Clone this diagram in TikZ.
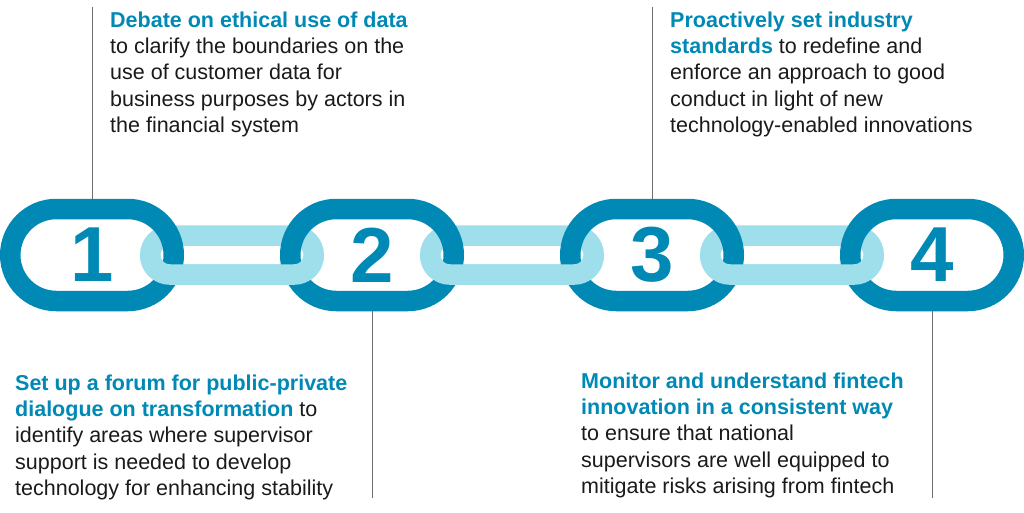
\documentclass[tikz,border=0pt]{standalone}
\usepackage{fontspec}
\setmainfont{Liberation Sans}
\usepackage{xcolor}
\usepackage{tikz}
\usetikzlibrary{shapes.misc,positioning}
\definecolor{chain}{HTML}{0089B5}
\definecolor{chainlight}{HTML}{9EDFEB}
\definecolor{ink}{HTML}{1A1A1A}
\definecolor{rule}{HTML}{6E6E6E}
\tikzset{
  every node/.style={text=ink},
  biglink/.style={rounded rectangle,draw=chain,line width=20.5pt,minimum width=163.5pt,minimum height=92pt,inner sep=0pt,text=chain,font=\fontsize{78}{78}\selectfont\bfseries},
  smalllink/.style={rounded rectangle,draw=chainlight,line width=20.5pt,minimum width=163.5pt,minimum height=39pt,inner sep=0pt},
  leader/.style={draw=rule,line width=1pt},
  blurb/.style={anchor=north west,align=left,inner sep=0pt,font=\fontsize{21.5}{26.3}\selectfont}
}
\newcommand{\hilite}[1]{\textcolor{chain}{\textbf{#1}}}

\begin{document}
\begin{tikzpicture}[x=1pt,y=-1pt]
  \useasboundingbox (0,0) rectangle (1024,512);
  % light links sit under the big ones ...
  \foreach \i/\x in {12/232,23/512,34/792}
    \node[smalllink] (ring\i) at (\x,255) {};
  \node[biglink] (link1) at (92,255) {1};
  \node[biglink] (link2) at (372,255) {2};
  \node[biglink] (link3) at (652,255) {3};
  \node[biglink] (link4) at (932,255) {4};
  % ... except for their lower half
  \begin{scope}
    \clip (0,255) rectangle (1024,512);
    \foreach \i/\x in {12/232,23/512,34/792}
      \node[smalllink] (ring\i b) at (\x,255) {};
  \end{scope}

  \coordinate (top1) at (92,7);
  \coordinate (top3) at (652,7);
  \coordinate (foot2) at (372,498);
  \coordinate (foot4) at (932,498);
  \draw[leader] (top1) -- (link1.north);
  \draw[leader] (top3) -- (link3.north);
  \draw[leader] (link2.south) -- (foot2);
  \draw[leader] (link4.south) -- (foot4);

  \node[blurb] (step1) at (110,11.6) {\hilite{Debate on ethical use of data}\\
    to clarify the boundaries on the\\use of customer data for\\
    business purposes by actors in\\the financial system};
  \node[blurb] (step3) at (670,11.6) {\hilite{Proactively set industry}\\
    \hilite{standards} to redefine and\\enforce an approach to good\\
    conduct in light of new\\technology-enabled innovations};
  \node[blurb] (step2) at (15,374.4) {\hilite{Set up a forum for public-private}\\
    \hilite{dialogue on transformation} to\\identify areas where supervisor\\
    support is needed to develop\\technology for enhancing stability};
  \node[blurb] (step4) at (581,372.6) {\hilite{Monitor and understand fintech}\\
    \hilite{innovation in a consistent way}\\to ensure that national\\
    supervisors are well equipped to\\mitigate risks arising from fintech};
\end{tikzpicture}
\end{document}
